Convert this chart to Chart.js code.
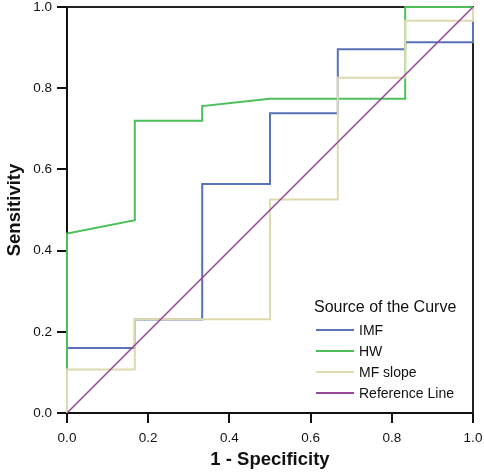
<!DOCTYPE html>
<html>
<head>
<meta charset="utf-8">
<script src="https://cdn.jsdelivr.net/npm/chart.js@4/dist/chart.umd.min.js"></script>
<style>
    html, body { margin: 0; padding: 0; background: #fff; }
    #wrap { width: 484px; height: 473px; position: relative; }
</style>
</head>
<body>
<div id="wrap"><canvas id="rocChart"></canvas></div>
<script>
// ROC curve points: [1 - specificity, sensitivity]
const imfPoints = [
    [0, 0], [0, 0.16], [0.167, 0.16], [0.167, 0.23], [0.333, 0.23], [0.333, 0.564],
    [0.5, 0.564], [0.5, 0.738], [0.667, 0.738], [0.667, 0.896], [0.833, 0.896],
    [0.833, 0.913], [1, 0.913], [1, 1]
];
const hwPoints = [
    [0, 0], [0, 0.442], [0.167, 0.475], [0.167, 0.72], [0.333, 0.72], [0.333, 0.756],
    [0.5, 0.774], [0.833, 0.774], [0.833, 1], [1, 1]
];
const mfSlopePoints = [
    [0, 0], [0, 0.107], [0.167, 0.107], [0.167, 0.231], [0.5, 0.231], [0.5, 0.526],
    [0.667, 0.526], [0.667, 0.826], [0.833, 0.826], [0.833, 0.966], [1, 0.966], [1, 1]
];
const referencePoints = [[0, 0], [1, 1]];

const seriesNames = ["IMF", "HW", "MF slope", "Reference Line"];
const seriesColors = ["#5a72b8", "#4cbf5a", "#dedab0", "#96489a"];
const tickValues = [0, 0.2, 0.4, 0.6, 0.8, 1.0];

let rocChart;

function toXY(points) {
    return points.map(p => ({ x: p[0], y: p[1] }));
}

// top and right frame lines, under the curves
const framePlugin = {
    id: "frame",
    beforeDatasetsDraw(chart) {
        const a = chart.chartArea;
        const ctx = chart.ctx;
        ctx.save();
        ctx.strokeStyle = "#222";
        ctx.lineWidth = 2;
        ctx.beginPath();
        ctx.moveTo(a.left, a.top);
        ctx.lineTo(a.right, a.top);
        ctx.lineTo(a.right, a.bottom);
        ctx.stroke();
        ctx.restore();
    }
};

// legend drawn inside the plot, bottom right
const insideLegend = {
    id: "insideLegend",
    afterDraw(chart) {
        const ctx = chart.ctx;
        ctx.save();
        ctx.fillStyle = "#111";
        ctx.textBaseline = "middle";
        ctx.textAlign = "left";
        ctx.font = "16px 'Liberation Sans', Arial, sans-serif";
        ctx.fillText("Source of the Curve", 314, 308);
        ctx.font = "14px 'Liberation Sans', Arial, sans-serif";
        chart.data.datasets.forEach((ds, i) => {
            const y = 330 + i * 21;
            ctx.strokeStyle = ds.borderColor;
            ctx.lineWidth = 2;
            ctx.beginPath();
            ctx.moveTo(316, y);
            ctx.lineTo(354, y);
            ctx.stroke();
            ctx.fillStyle = "#111";
            ctx.fillText(ds.label, 359, y + 1);
        });
        ctx.restore();
    }
};

function initChart() {
    const ctx = document.getElementById("rocChart").getContext("2d");
    const allPoints = [imfPoints, hwPoints, mfSlopePoints, referencePoints];

    rocChart = new Chart(ctx, {
        type: "line",
        data: {
            datasets: allPoints.map((pts, i) => ({
                label: seriesNames[i],
                data: toXY(pts),
                borderColor: seriesColors[i],
                borderWidth: i === 3 ? 1.6 : 2,
                pointRadius: 0,
                tension: 0,
                fill: false,
                clip: false,
                order: allPoints.length - i   // later series on top
            }))
        },
        options: {
            responsive: true,
            maintainAspectRatio: false,
            animation: false,
            layout: {
                padding: 0
            },
            plugins: {
                legend: { display: false },
                tooltip: { enabled: false }
            },
            scales: {
                x: {
                    type: "linear",
                    min: 0,
                    max: 1,
                    afterBuildTicks: s => { s.ticks = tickValues.map(v => ({ value: v })); },
                    afterFit: s => {
                        s.height = 60;
                        s.paddingLeft = 0;
                        s.paddingRight = 11;
                    },
                    grid: {
                        display: true,
                        drawOnChartArea: false,
                        drawTicks: true,
                        tickLength: 10,
                        color: "#111",
                        lineWidth: 2
                    },
                    border: { display: true, color: "#111", width: 2 },
                    ticks: {
                        padding: 7,
                        color: "#111",
                        font: { family: "'Liberation Sans', Arial, sans-serif", size: 13.5 },
                        callback: v => v.toFixed(1)
                    },
                    title: {
                        display: true,
                        text: "1 - Specificity",
                        color: "#111",
                        padding: { top: 4, bottom: 2 },
                        font: { family: "'Liberation Sans', Arial, sans-serif", size: 18.5, weight: "bold" }
                    }
                },
                y: {
                    type: "linear",
                    min: 0,
                    max: 1,
                    afterBuildTicks: s => { s.ticks = tickValues.map(v => ({ value: v })); },
                    afterFit: s => {
                        s.width = 67;
                        s.paddingTop = 7;
                        s.paddingBottom = 0;
                    },
                    grid: {
                        display: true,
                        drawOnChartArea: false,
                        drawTicks: true,
                        tickLength: 10,
                        color: "#111",
                        lineWidth: 2
                    },
                    border: { display: true, color: "#111", width: 2 },
                    ticks: {
                        padding: 5,
                        color: "#111",
                        font: { family: "'Liberation Sans', Arial, sans-serif", size: 13.5 },
                        callback: v => v.toFixed(1)
                    },
                    title: {
                        display: true,
                        text: "Sensitivity",
                        color: "#111",
                        padding: { top: 4, bottom: 4 },
                        font: { family: "'Liberation Sans', Arial, sans-serif", size: 18.5, weight: "bold" }
                    }
                }
            }
        },
        plugins: [framePlugin, insideLegend]
    });
}

document.addEventListener("DOMContentLoaded", function() {
    initChart();
});
</script>
</body>
</html>
